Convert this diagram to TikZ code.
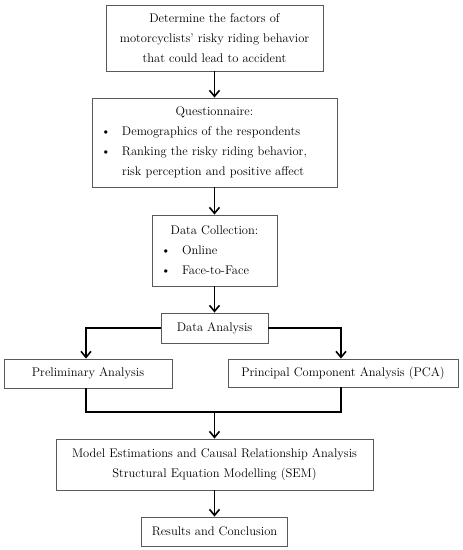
\documentclass[tikz,border=0pt]{standalone}
\usetikzlibrary{arrows.meta}
\begin{document}
\begin{tikzpicture}[x=1pt,y=-1pt,
  box/.style={draw=black!65, line width=0.9pt, fill=white, inner sep=0pt, font=\fontsize{12.5}{20}\selectfont},
  conn/.style={line width=1.8pt, black},
  arr/.style={conn, -{Straight Barb[length=6pt,width=10pt,line width=1.6pt]}}]
\useasboundingbox (0,0) rectangle (463,550);

\node[box, minimum width=217pt, minimum height=66pt, align=center] (b1) at (214.5,38)
  {Determine the factors of\\motorcyclists' risky riding behavior\\that could lead to accident};

\node[box, minimum width=245pt, minimum height=89pt, text width=227pt, align=left] (b2) at (214.5,142.5)
  {\makebox[227pt][c]{Questionnaire:}\\
   \makebox[21pt][l]{\textbullet}Demographics of the respondents\\
   \makebox[21pt][l]{\textbullet}Ranking the risky riding behavior,\\
   \hspace*{21pt}risk perception and positive affect};

\node[box, minimum width=125pt, minimum height=71pt, text width=107pt, align=left] (b3) at (214.5,250.5)
  {\makebox[107pt][c]{Data Collection:}\\
   \makebox[21pt][l]{\textbullet}Online\\
   \makebox[21pt][l]{\textbullet}Face-to-Face};

\node[box, minimum width=107pt, minimum height=30pt] (b4) at (214.5,328) {Data Analysis};
\node[box, minimum width=168pt, minimum height=29pt] (b5) at (88,373.5) {Preliminary Analysis};
\node[box, minimum width=230pt, minimum height=28pt] (b6) at (343,373) {Principal Component Analysis (PCA)};
\node[box, minimum width=317pt, minimum height=51pt, align=center] (b7) at (214.5,464.5)
  {Model Estimations and Causal Relationship Analysis\\Structural Equation Modelling (SEM)};
\node[box, minimum width=146pt, minimum height=29pt] (b8) at (214.5,531.5) {Results and Conclusion};

\coordinate (jl) at (86,412);
\coordinate (jr) at (341,412);
\coordinate (jm) at (214.5,412);

\draw[arr] (b1.south) -- (b2.north);
\draw[arr] (b2.south) -- (b3.north);
\draw[arr] (b3.south) -- (b4.north);
\draw[arr] (b4.west) -| (b5.north -| jl);
\draw[arr] (b4.east) -| (b6.north -| jr);
\draw[conn] (b5.south -| jl) -- (jl) -- (jr) -- (b6.south -| jr);
\draw[arr] (jm) -- (b7.north);
\draw[arr] (b7.south) -- (b8.north);
\end{tikzpicture}
\end{document}
